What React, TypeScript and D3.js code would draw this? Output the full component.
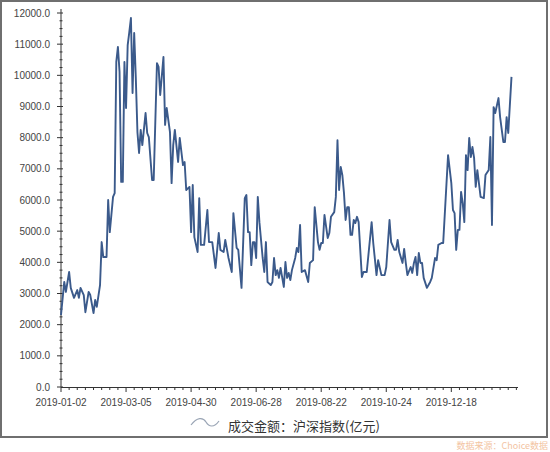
import React from 'react';
import * as d3 from 'd3';

// trading-day index (from 2019-01-02) and turnover, 亿元
const dayIndex = [
  0, 2, 3, 5, 6, 8, 10, 11, 12, 14, 15, 17, 18, 20, 21, 22, 24, 25, 26, 28,
  29, 30, 32, 33, 34, 35, 36, 37, 38, 39, 40, 41, 42, 43, 44, 45, 46, 47, 48, 49,
  50, 52, 53, 54, 56, 57, 59, 60, 61, 63, 64, 65, 67, 68, 69, 70, 72, 73, 75, 76,
  77, 79, 80, 81, 82, 84, 85, 86, 88, 90, 91, 93, 95, 97, 98, 100, 101, 103, 105, 106,
  108, 109, 111, 113, 114, 115, 116, 117, 118, 119, 120, 121, 122, 124, 125, 126, 127, 129, 130, 131,
  132, 133, 134, 135, 137, 138, 139, 140, 141, 142, 144, 145, 146, 147, 148, 150, 152, 153, 155, 156,
  158, 159, 160, 161, 162, 164, 165, 166, 168, 169, 170, 171, 172, 173, 174, 175, 176, 177, 178, 179,
  180, 181, 182, 183, 185, 186, 188, 191, 192, 194, 195, 197, 199, 200, 202, 203, 205, 206, 207, 208,
  210, 211, 212, 213, 215, 216, 217, 218, 219, 220, 221, 222, 223, 225, 227, 228, 230, 231, 232, 234,
  235, 238, 240, 241, 242, 243, 244, 245, 246, 247, 248, 249, 250, 251, 252, 253, 254, 255, 256, 258,
  260, 261, 263, 264, 265, 266, 267, 269, 270, 272, 273, 274, 275, 277,
];

const turnover = [
  2310, 3370, 3050, 3690, 3180, 2860, 3110, 2860, 3180, 2950, 2400, 3050, 2950, 2370, 2790, 2570, 3270, 4650, 4170, 4170,
  6000, 4970, 6100, 6220, 10430, 10910, 10110, 6580, 6580, 10430, 8950, 10970, 11390, 11840, 9430, 11360, 9910, 8180, 7510, 8250,
  7760, 8790, 8150, 8020, 6640, 6640, 10390, 10270, 9370, 10590, 8410, 8950, 8180, 6540, 7760, 8250, 7220, 7990, 7120, 7220,
  6320, 6420, 4970, 6480, 4810, 4330, 6060, 4560, 4560, 5680, 4650, 4650, 3820, 4940, 4400, 4330, 4720, 4140, 3690, 5580,
  4460, 4400, 3180, 6060, 6160, 4970, 4970, 3910, 4650, 4650, 4140, 6100, 5290, 4140, 3690, 4650, 3370, 3270, 3370, 4140,
  3590, 3750, 3500, 3820, 3210, 4010, 3500, 3660, 3430, 3750, 4140, 4460, 4330, 5200, 3690, 3750, 3370, 3980, 4070, 5770,
  4650, 4400, 4620, 4620, 5520, 4780, 4940, 5460, 5610, 6100, 7920, 6320, 7060, 6800, 6220, 5360, 5770, 5770, 4880, 4880,
  5360, 5260, 5460, 5290, 3530, 3690, 3690, 5290, 4620, 3590, 4070, 3590, 3590, 3850, 5360, 4650, 4400, 4400, 4720, 4330,
  3980, 4430, 3980, 3590, 3850, 3660, 3980, 4170, 3590, 4300, 3980, 3980, 3500, 3180, 3370, 3500, 4140, 4070, 4560, 4620,
  4620, 7440, 6540, 5680, 5580, 4400, 5040, 5040, 6260, 5900, 5290, 7440, 6960, 7990, 7380, 7700, 7350, 6420, 6960, 6100,
  6060, 6800, 6960, 8020, 5200, 8980, 8790, 9270, 8660, 7860, 7860, 8660, 8150, 9950,
];

const xTickLabels = ['2019-01-02', '2019-03-05', '2019-04-30', '2019-06-28', '2019-08-22', '2019-10-24', '2019-12-18'];
const xTickIndex = [0, 40, 80, 120, 160, 200, 240];
const legendLabel = '成交金额：沪深指数(亿元)';
const sourceNote = '数据来源：Choice数据';

const W = 550;
const H = 452;
const FONT = '"Liberation Sans", Arial, sans-serif';

export default function App() {
  const x = d3.scaleLinear().domain([0, 281]).range([61, 518]);
  const y = d3.scaleLinear().domain([0, 12000]).range([387, 13]);

  const points = dayIndex.map((d, i) => [d, turnover[i]] as [number, number]);
  const path = d3
    .line<[number, number]>()
    .x((d) => x(d[0]))
    .y((d) => y(d[1]))(points);

  const yMajor = d3.range(0, 12001, 1000);
  const yMinor = d3.range(0, 12001, 250).filter((v) => v % 1000 !== 0);
  const xMinor = d3.range(0, 281, 5).filter((v) => !xTickIndex.includes(v));

  return (
    <svg
      width={W}
      height={H}
      style={{ position: 'fixed', left: 0, top: 0, background: '#fff' }}
      fontFamily={FONT}
    >
      <rect x={0} y={0} width={W} height={H} fill="#fff" />
      {/* outer frame */}
      <rect x={1} y={1} width={546} height={436} fill="none" stroke="#6f6f6f" strokeWidth={2} />

      {/* y axis */}
      <line x1={x(0)} x2={x(0)} y1={y(12000) - 4} y2={y(0)} stroke="#333" strokeWidth={1} />
      {yMinor.map((v) => (
        <line key={'ym' + v} x1={x(0) - 1.5} x2={x(0) + 1.5} y1={y(v)} y2={y(v)} stroke="#333" />
      ))}
      {yMajor.map((v) => (
        <g key={'yM' + v}>
          <line x1={x(0) - 4} x2={x(0) + 2} y1={y(v)} y2={y(v)} stroke="#333" />
          <text x={50} y={y(v)} dy="0.35em" textAnchor="end" fontSize={10} fill="#444">
            {v.toFixed(1)}
          </text>
        </g>
      ))}

      {/* x axis */}
      <line x1={x(0)} x2={x(281)} y1={y(0) + 0.5} y2={y(0) + 0.5} stroke="#333" />
      {xMinor.map((d) => (
        <line key={'xm' + d} x1={x(d)} x2={x(d)} y1={y(0)} y2={y(0) + 3} stroke="#333" />
      ))}
      {xTickIndex.map((d, i) => (
        <g key={'xM' + d}>
          <line x1={x(d)} x2={x(d)} y1={y(0)} y2={y(0) + 5} stroke="#333" />
          <text x={x(d)} y={y(0) + 19} textAnchor="middle" fontSize={10} fill="#444">
            {xTickLabels[i]}
          </text>
        </g>
      ))}

      {/* series */}
      <path d={path ?? ''} fill="none" stroke="#3b5a8b" strokeWidth={1.9} strokeLinejoin="round" />

      {/* legend */}
      <path
        d="M191,425 C197,417 203,417 206,422 C209,427 214,428 219,421"
        fill="none"
        stroke="#9aa5b5"
        strokeWidth={1.2}
      />
      <text x={228} y={426} dy="0.35em" fontSize={13} fill="#333" fontFamily='"Noto Sans CJK SC", sans-serif'>
        {legendLabel}
      </text>

      {/* source note */}
      <text x={548} y={449} textAnchor="end" fontSize={9} fill="#f3c4a2" fontFamily='"Noto Sans CJK SC", sans-serif'>
        {sourceNote}
      </text>
    </svg>
  );
}
